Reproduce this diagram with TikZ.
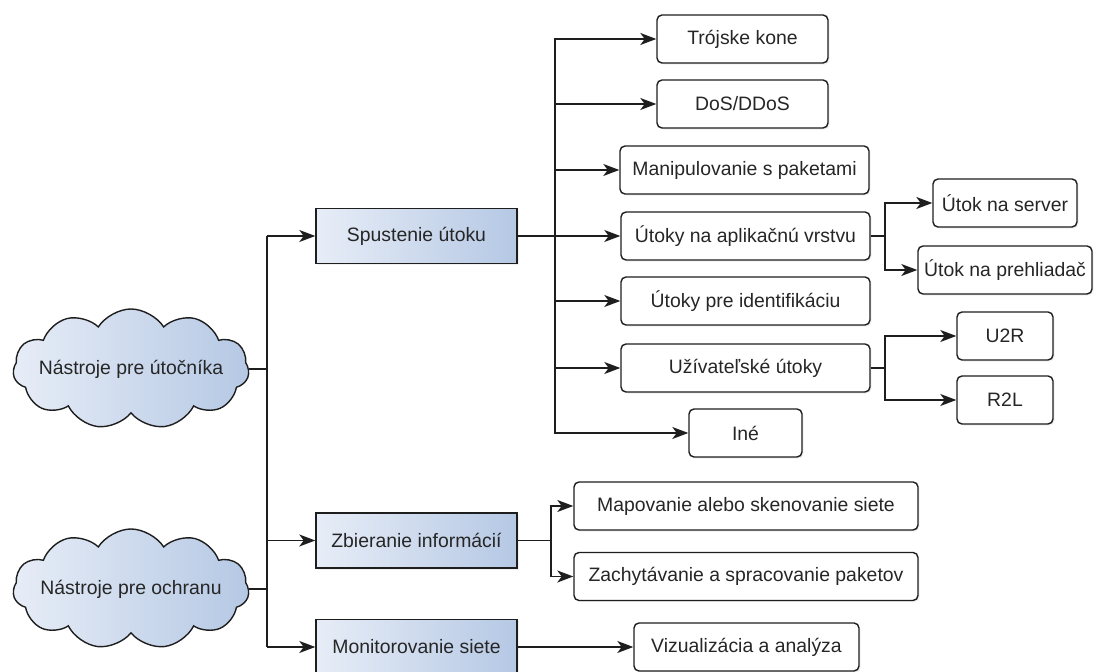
\documentclass[tikz,border=0pt]{standalone}
\usepackage{fontspec}
\setmainfont{Liberation Sans}
\usetikzlibrary{arrows.meta,shapes.symbols,shadows}

\definecolor{fillL}{RGB}{231,237,247}
\definecolor{fillR}{RGB}{181,200,228}
\definecolor{edge}{RGB}{30,30,30}

\tikzset{
  base/.style={draw=edge, line width=0.7pt, font=\fontsize{9.7}{11}\selectfont,
    text=black!85, inner sep=0pt},
  lbl/.style={font=\fontsize{9.7}{11}\selectfont, text=black!85},
  tool/.style={base, cloud, cloud puffs=11, cloud puff arc=115, aspect=2.1,
    minimum width=118pt, minimum height=60pt, left color=fillL, right color=fillR,
    label={[lbl]center:#1}},
  soft/.style={drop shadow={opacity=0.12, shadow xshift=0.8pt, shadow yshift=-0.8pt}},
  group/.style={base, soft, left color=fillL, right color=fillR,
    minimum width=100.5pt, minimum height=27.5pt},
  leaf/.style={base, soft, fill=white, rounded corners=2.5pt, minimum height=24pt},
  arr/.style={-{Stealth[length=8pt,width=6pt,inset=2.2pt]}, line width=0.7pt, draw=edge},
  wire/.style={line width=0.7pt, draw=edge}
}

\begin{document}
\begin{tikzpicture}[x=0.5pt,y=-0.5pt]
  \useasboundingbox (0,0) rectangle (1094,672);

  % tools
  \node[tool=Nástroje pre útočníka] (att) at (131,369) {};
  \node[tool=Nástroje pre ochranu] (pro) at (131,589) {};

  % groups
  \node[group] (spu) at (416.5,236) {Spustenie útoku};
  \node[group] (zbi) at (416.5,540.5) {Zbieranie informácií};
  \node[group] (mon) at (416.5,647) {Monitorovanie siete};

  % attacks
  \node[leaf, minimum width=85.5pt] (troj) at (742.5,39) {Trójske kone};
  \node[leaf, minimum width=85.5pt] (dos) at (742.5,104) {DoS/DDoS};
  \node[leaf, minimum width=124.5pt] (man) at (744.5,170) {Manipulovanie s paketami};
  \node[leaf, minimum width=124.5pt] (app) at (745.5,236) {Útoky na aplikačnú vrstvu};
  \node[leaf, minimum width=124.5pt] (ide) at (745.5,301) {Útoky pre identifikáciu};
  \node[leaf, minimum width=124.5pt] (uzi) at (745.5,368) {Užívateľské útoky};
  \node[leaf, minimum width=56.5pt] (ine) at (745.5,433) {Iné};

  \node[leaf, minimum width=72pt] (srv) at (1005,203) {Útok na server};
  \node[leaf, minimum width=87pt] (brw) at (1005,270) {Útok na prehliadač};
  \node[leaf, minimum width=48pt] (u2r) at (1005,336) {U2R};
  \node[leaf, minimum width=48pt] (r2l) at (1005,400) {R2L};

  % gathering, monitoring
  \node[leaf, minimum width=172pt] (map) at (746,506) {Mapovanie alebo skenovanie siete};
  \node[leaf, minimum width=172pt] (zach) at (746,576.5) {Zachytávanie a spracovanie paketov};
  \node[leaf, minimum width=112.5pt] (viz) at (746.5,647) {Vizualizácia a analýza};

  % bus lines
  \coordinate (busA) at (267,0);
  \coordinate (busB) at (555,0);
  \coordinate (busC) at (885,0);
  \coordinate (busD) at (551,0);

  \draw[wire] (att.east) -- (att.east -| busA);
  \draw[wire] (pro.east) -- (pro.east -| busA);
  \draw[wire] (busA |- spu.west) -- (busA |- mon.west);
  \foreach \n in {spu,zbi,mon}
    \draw[arr] (busA |- \n.west) -- (\n.west);

  \foreach \n in {troj,dos,man,app,ide,uzi,ine}
    \draw[arr] (spu.east) -- (spu.east -| busB) |- (\n.west);
  \foreach \n in {srv,brw}
    \draw[arr] (app.east) -- (app.east -| busC) |- (\n.west);
  \foreach \n in {u2r,r2l}
    \draw[arr] (uzi.east) -- (uzi.east -| busC) |- (\n.west);
  \foreach \n in {map,zach}
    \draw[arr] (zbi.east) -- (zbi.east -| busD) |- (\n.west);
  \draw[arr] (mon.east) -- (viz.west);
\end{tikzpicture}
\end{document}
